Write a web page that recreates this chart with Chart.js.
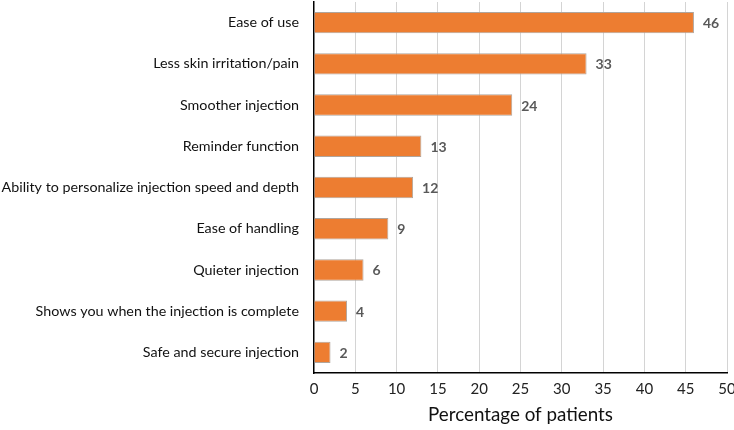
<!DOCTYPE html>
<html><head><meta charset="utf-8">
<script src="https://cdn.jsdelivr.net/npm/chart.js@4"></script>
<style>html,body{margin:0;padding:0;background:#fff}#wrap{width:734px;height:430px}</style>
</head><body><div id="wrap"><canvas id="c" width="734" height="430"></canvas></div>
<script>
const categories = ["Ease of use","Less skin irritation/pain","Smoother injection","Reminder function","Ability to personalize injection speed and depth","Ease of handling","Quieter injection","Shows you when the injection is complete","Safe and secure injection"];
const percentages = [46,33,24,13,12,9,6,4,2];
const xTicks = [0,5,10,15,20,25,30,35,40,45,50];
const axisTitle = "Percentage of patients";
const FONT = "Lato, 'Open Sans', sans-serif";

const valueLabels = {
  id: 'valueLabels',
  afterDatasetsDraw(chart) {
    const ctx = chart.ctx;
    const meta = chart.getDatasetMeta(0);
    ctx.save();
    ctx.font = "bold 14px " + FONT;
    ctx.fillStyle = "#595959";
    ctx.textBaseline = "middle";
    ctx.textAlign = "left";
    meta.data.forEach((bar, i) => {
      ctx.fillText(String(percentages[i]), bar.x + 9, bar.y + 1);
    });
    ctx.restore();
  }
};

new Chart(document.getElementById('c'), {
  type: 'bar',
  data: {
    labels: categories,
    datasets: [{
      data: percentages,
      backgroundColor: '#ED7D31',
      borderColor: '#B0A59C',
      borderWidth: 1,
      borderSkipped: 'left',
      barPercentage: 0.98,
      categoryPercentage: 0.53
    }]
  },
  options: {
    indexAxis: 'y',
    responsive: false,
    animation: false,
    layout: { padding: { top: 2, right: 7, bottom: 4, left: 0 } },
    plugins: { legend: { display: false }, tooltip: { enabled: false } },
    scales: {
      x: {
        min: 0, max: 50,
        afterBuildTicks(scale) { scale.ticks = xTicks.map(v => ({ value: v })); },
        afterFit(scale) { scale.height = 53; scale.paddingLeft = 0; scale.paddingRight = 0; },
        ticks: { color: '#222', font: { family: FONT, size: 15 }, padding: 7 },
        grid: {
          color: (c) => c.tick && c.tick.value === 0 ? 'rgba(0,0,0,0)' : '#d4d4d4',
          borderDash: [3, 2],
          drawTicks: false
        },
        border: { color: '#000', width: 1.5, dash: [] },
        title: { display: true, text: axisTitle, color: '#111', font: { family: FONT, size: 18.8 }, padding: { top: 3, bottom: 0 } }
      },
      y: {
        afterFit(scale) { scale.width = 314; scale.paddingTop = 0; scale.paddingBottom = 0; },
        ticks: { color: '#111', font: { family: FONT, size: 14.3 }, padding: 15 },
        grid: { display: false, drawTicks: false },
        border: { color: '#000', width: 1.5 }
      }
    }
  },
  plugins: [valueLabels]
});
</script>
</body></html>
